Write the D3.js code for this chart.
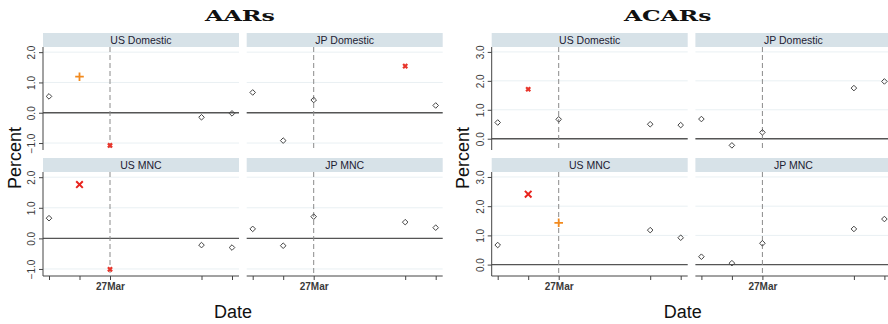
<!DOCTYPE html>
<html>
<head>
<meta charset="utf-8">
<script src="https://cdn.jsdelivr.net/npm/d3@7"></script>
<style>
  body { margin: 0; background: #fff; }
  text { font-family: "Liberation Sans", Arial, sans-serif; }
</style>
</head>
<body>
<script>
// event dates (trading days around 27 March 2020)
const dates = ["2020-03-25", "2020-03-26", "2020-03-27", "2020-03-30", "2020-03-31"]
const eventDate = "2020-03-27"
const eventLabel = "27Mar"
const facetNames = ["US Domestic", "JP Domestic", "US MNC", "JP MNC"]

// AARs (percent) and marker kind: o = n.s., x = small red x, p = orange +, X = big red X
const aarUsDom = [0.54, 1.19, -1.08, -0.15, -0.02]
const aarUsDomMark = ["o", "p", "x", "o", "o"]
const aarJpDom = [0.67, -0.92, 0.42, 1.54, 0.24]
const aarJpDomMark = ["o", "o", "o", "x", "o"]
const aarUsMnc = [0.66, 1.76, -1.01, -0.22, -0.30]
const aarUsMncMark = ["o", "X", "x", "o", "o"]
const aarJpMnc = [0.31, -0.24, 0.71, 0.53, 0.35]
const aarJpMncMark = ["o", "o", "o", "o", "o"]

// ACARs (percent)
const acarUsDom = [0.56, 1.71, 0.67, 0.50, 0.47]
const acarUsDomMark = ["o", "x", "o", "o", "o"]
const acarJpDom = [0.68, -0.23, 0.22, 1.75, 1.98]
const acarJpDomMark = ["o", "o", "o", "o", "o"]
const acarUsMnc = [0.67, 2.41, 1.43, 1.18, 0.92]
const acarUsMncMark = ["o", "X", "p", "o", "o"]
const acarJpMnc = [0.27, 0.05, 0.73, 1.22, 1.56]
const acarJpMncMark = ["o", "o", "o", "o", "o"]

const aarTicks = [-1, 0, 1, 2]
const acarTicks = [0, 1, 2, 3]

const parse = d3.timeParse("%Y-%m-%d")

const svg = d3.select("body").append("svg")
  .attr("width", 888).attr("height", 324)

const markStyle = {
  o: { type: d3.symbolDiamond2 || d3.symbolDiamond, size: 20, stroke: "#444", width: 1, fill: "none" },
  x: { type: d3.symbolX || d3.symbolCross, size: 13, stroke: "#e8352b", width: 2.2, fill: "none" },
  p: { type: d3.symbolPlus || d3.symbolCross, size: 26, stroke: "#f28a1e", width: 1.8, fill: "none" },
  X: { type: d3.symbolX || d3.symbolCross, size: 30, stroke: "#e8231d", width: 2, fill: "none" },
}

/**
 * 绘制一组 2x2 分面图
 */
const drawGraph = (x0, title, titleX, facets, yDomain, yTicks, yLabelX, dateX) => {
  const g = svg.append("g").attr("transform", "translate(" + x0 + ",0)")
  const panelW = 196
  const colLeft = [0, 203.7]
  const rows = [{ top: 47, bottom: 150 }, { top: 172, bottom: 276 }]
  const stripH = 14

  g.append("text")
    .attr("x", titleX).attr("y", 21)
    .attr("text-anchor", "middle")
    .style("font-family", "'DejaVu Serif', 'Liberation Serif', serif")
    .style("font-weight", "bold")
    .style("font-size", "15px")
    .attr("textLength", title.length * 17.5)
    .attr("lengthAdjust", "spacingAndGlyphs")
    .attr("fill", "#111")
    .text(title)

  facets.forEach((f, i) => {
    const col = i % 2, row = Math.floor(i / 2)
    const left = colLeft[col], right = left + panelW
    const { top, bottom } = rows[row]

    const x = d3.scaleTime()
      .domain([parse(dates[0]), parse(dates[dates.length - 1])])
      .range([left + 6, right - 7])
    const y = d3.scaleLinear().domain(yDomain).range([bottom, top])

    // strip
    g.append("rect")
      .attr("x", left).attr("y", top - stripH)
      .attr("width", panelW).attr("height", stripH)
      .attr("fill", "#d7e2e8")
    g.append("text")
      .attr("x", (left + right) / 2).attr("y", top - 3.5)
      .attr("text-anchor", "middle")
      .style("font-size", "10.5px")
      .attr("fill", "#1d2133")
      .text(f.name)

    // gridlines
    g.append("g").selectAll("line").data(yTicks).join("line")
      .attr("x1", left).attr("x2", right)
      .attr("y1", d => y(d)).attr("y2", d => y(d))
      .attr("stroke", "#e9f0f3").attr("stroke-width", 1)

    // zero line
    g.append("line")
      .attr("x1", left).attr("x2", right)
      .attr("y1", y(0)).attr("y2", y(0))
      .attr("stroke", "#555").attr("stroke-width", 1.4)

    // event line
    g.append("line")
      .attr("x1", x(parse(eventDate))).attr("x2", x(parse(eventDate)))
      .attr("y1", top).attr("y2", bottom)
      .attr("stroke", "#8a8a8a").attr("stroke-width", 1)
      .attr("stroke-dasharray", "5,3")

    // y axis only on the left column
    if (col === 0) {
      const ya = g.append("g")
        .attr("transform", "translate(" + left + ",0)")
        .call(d3.axisLeft(y).tickValues(yTicks).tickFormat(d3.format(".1f")).tickSize(4).tickSizeOuter(0))
      ya.select(".domain").attr("stroke", "#444").attr("d", "M0," + top + "V" + bottom)
      ya.selectAll(".tick line").attr("stroke", "#444")
      ya.selectAll(".tick text")
        .attr("transform", "rotate(-90)")
        .attr("x", 0).attr("y", -11.5)
        .attr("dy", "0.35em")
        .attr("text-anchor", "middle")
        .style("font-size", "10px")
        .attr("fill", "#3a3a3a")
    }

    // x axis only on the bottom row
    if (row === 1) {
      const xa = g.append("g")
        .attr("transform", "translate(0," + bottom + ")")
        .call(d3.axisBottom(x).tickValues(dates.map(parse))
          .tickFormat(d => d3.timeFormat("%Y-%m-%d")(d) === eventDate ? eventLabel : "")
          .tickSize(4).tickSizeOuter(0))
      xa.select(".domain").attr("stroke", "#444").attr("d", "M" + left + ",0H" + right)
      xa.selectAll(".tick line").attr("stroke", "#444")
      xa.selectAll(".tick text")
        .attr("y", 7)
        .style("font-size", "10px")
        .style("font-weight", "bold")
        .attr("fill", "#3a3a3a")
    }

    // markers
    g.append("g").selectAll("path")
      .data(f.values.map((v, k) => ({ date: parse(dates[k]), v: v, m: f.marks[k] })))
      .join("path")
      .attr("transform", d => "translate(" + x(d.date) + "," + y(d.v) + ")")
      .attr("d", d => d3.symbol().type(markStyle[d.m].type).size(markStyle[d.m].size)())
      .attr("fill", d => markStyle[d.m].fill)
      .attr("stroke", d => markStyle[d.m].stroke)
      .attr("stroke-width", d => markStyle[d.m].width)
  })

  // axis titles
  g.append("text")
    .attr("transform", "translate(" + yLabelX + ",158) rotate(-90)")
    .attr("text-anchor", "middle")
    .attr("dy", "0.35em")
    .style("font-size", "18px")
    .attr("fill", "#111")
    .text("Percent")
  g.append("text")
    .attr("x", dateX).attr("y", 318)
    .attr("text-anchor", "middle")
    .style("font-size", "18px")
    .attr("fill", "#111")
    .text("Date")
}

drawGraph(43, "AARs", 197, [
  { name: facetNames[0], values: aarUsDom, marks: aarUsDomMark },
  { name: facetNames[1], values: aarJpDom, marks: aarJpDomMark },
  { name: facetNames[2], values: aarUsMnc, marks: aarUsMncMark },
  { name: facetNames[3], values: aarJpMnc, marks: aarJpMncMark },
], [-1.23, 2.17], aarTicks, -28, 190)

drawGraph(491.7, "ACARs", 176, [
  { name: facetNames[0], values: acarUsDom, marks: acarUsDomMark },
  { name: facetNames[1], values: acarJpDom, marks: acarJpDomMark },
  { name: facetNames[2], values: acarUsMnc, marks: acarUsMncMark },
  { name: facetNames[3], values: acarJpMnc, marks: acarJpMncMark },
], [-0.39, 3.17], acarTicks, -28.7, 191)
</script>
</body>
</html>
